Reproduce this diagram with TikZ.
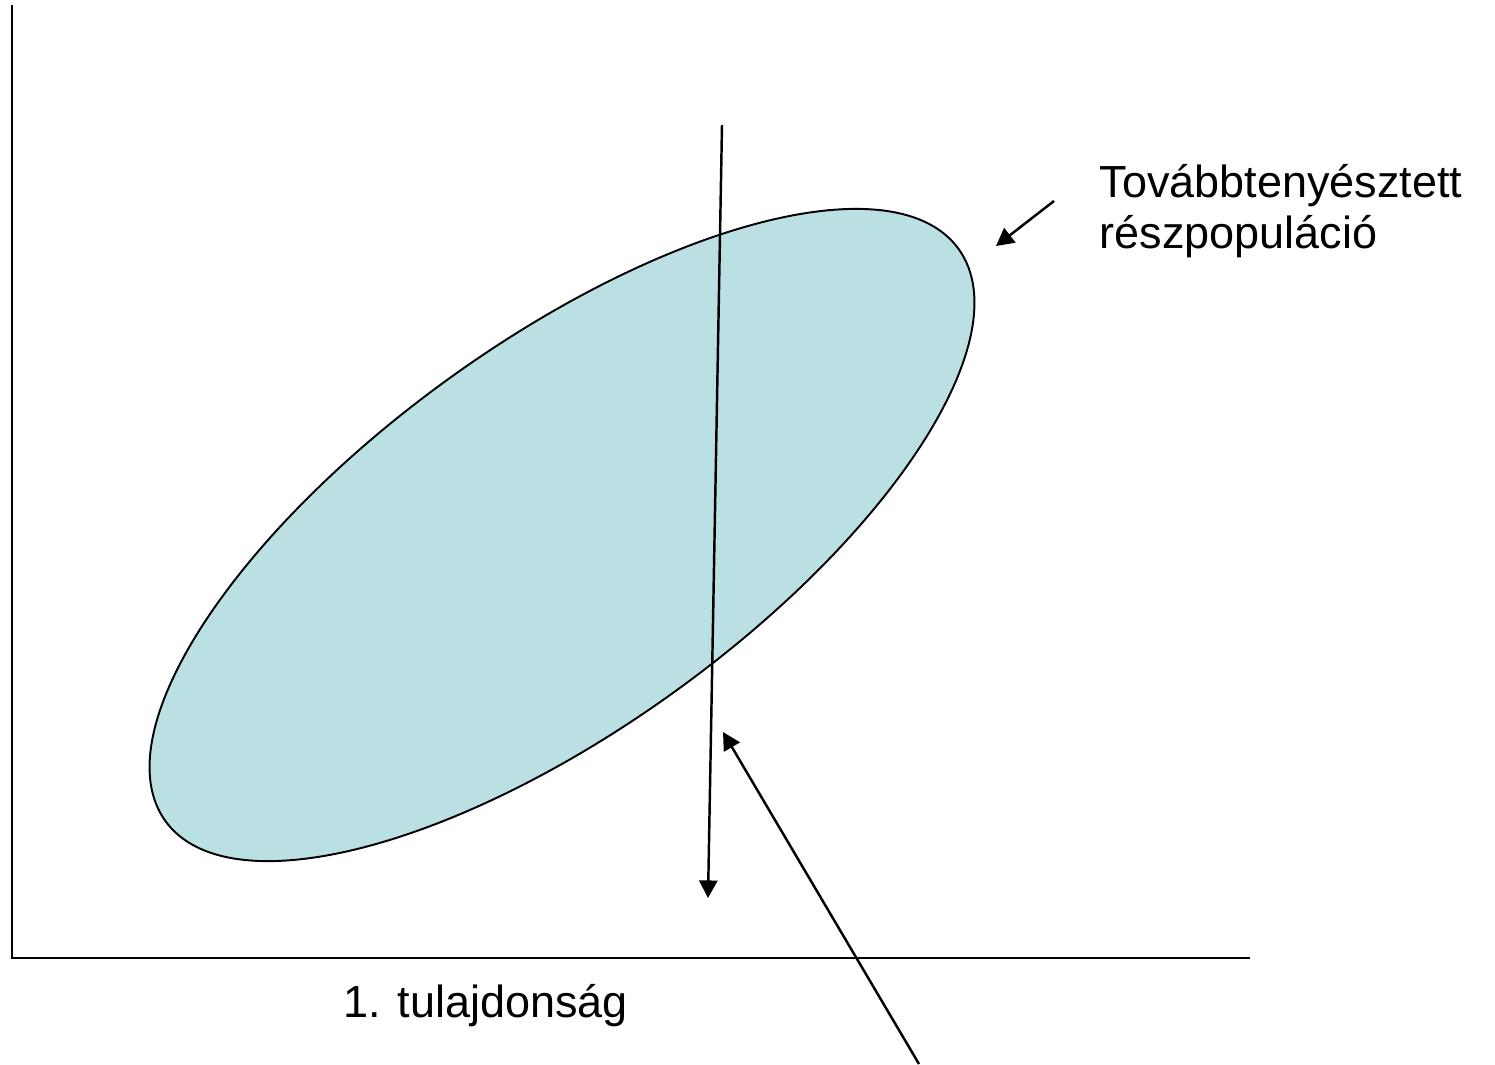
\documentclass[tikz,border=0pt]{standalone}
\usepackage{fontspec}
\setmainfont{Liberation Sans}
\usetikzlibrary{arrows.meta,shapes.geometric}
\definecolor{popfill}{RGB}{187,224,227}
\begin{document}
\begin{tikzpicture}[
                every node/.style={inner sep=0pt,font=\fontsize{12.8}{14.5}\selectfont},
                axis/.style={line width=0.6pt},
                pointer/.style={line width=0.7pt,-{Triangle[length=5pt,width=5.2pt]}},
                subpop/.style={ellipse,draw,line width=0.55pt,fill=popfill,
                        minimum width=9.78cm,minimum height=3.86cm,rotate=35.8}
            ]

            \useasboundingbox (0,0) rectangle (14.95,10.64);

            \coordinate (ytop) at (0.12,10.59);
            \coordinate (origin) at (0.12,1.06);
            \coordinate (xend) at (12.50,1.06);
            \draw[axis] (ytop) -- (origin) -- (xend);

            \node[subpop] (pop) at (5.62,5.29) {};

            \coordinate (cuttop) at (7.22,9.39);
            \coordinate (cutbot) at (7.08,1.66);
            \draw[pointer] (cuttop) -- (cutbot);

            \node[anchor=base west,align=left] (label) at (10.99,8.16)
                {Továbbtenyésztett\\részpopuláció};
            \coordinate (labtail) at (10.54,8.63);
            \coordinate (labtip) at (9.96,8.18);
            \draw[pointer] (labtail) -- (labtip);

            \coordinate (lowtail) at (9.19,0);
            \coordinate (lowtip) at (7.23,3.32);
            \draw[pointer] (lowtail) -- (lowtip);

            \node[anchor=base west] (xlabel) at (3.43,0.47) {1. tulajdonság};

        \end{tikzpicture}
\end{document}
